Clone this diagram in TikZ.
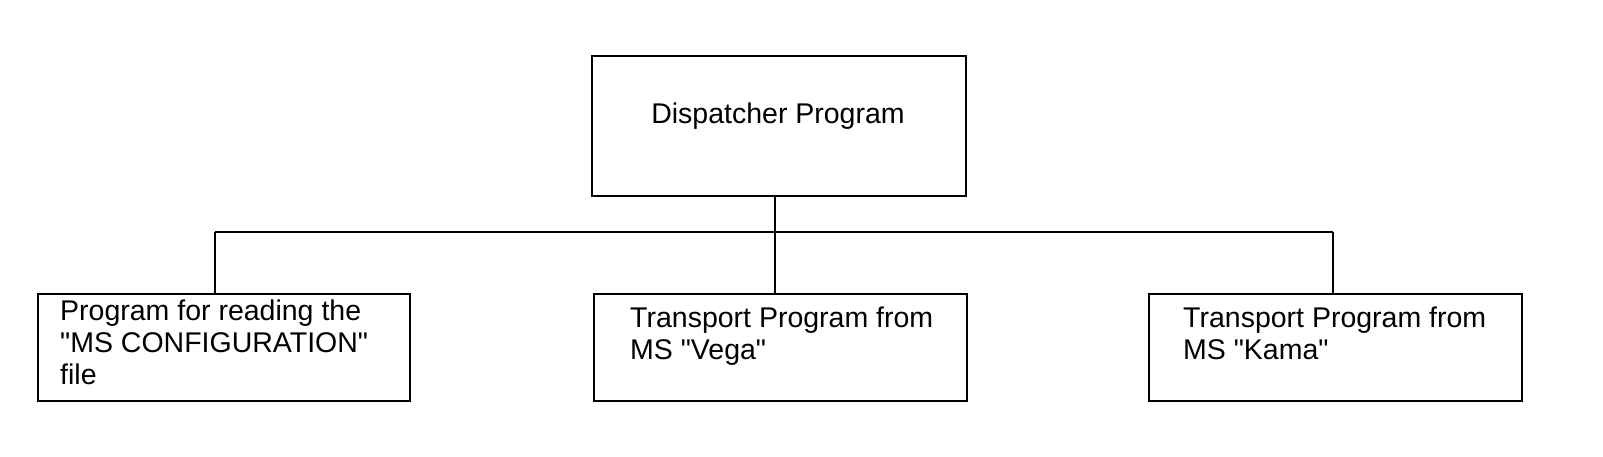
\documentclass[tikz,border=0pt]{standalone}
\usepackage{fontspec}
\setmainfont{Liberation Sans}[Ligatures=TeXOff]
\begin{document}
\begin{tikzpicture}[x=1pt,y=-1pt,
  box/.style={draw,line width=2pt,minimum width=#1,inner sep=0pt,anchor=north west},
  lbl/.style={anchor=north west,align=left,font=\fontsize{28.5}{32}\selectfont,inner sep=0pt},
  ln/.style={line width=2pt}]
\useasboundingbox[fill=white] (0,0) rectangle (1603,456);
\node[box=374pt,minimum height=140pt] (top) at (591,55) {};
\node[font=\fontsize{28.5}{32}\selectfont] (toptext) at (778,116) {Dispatcher Program};
\node[box=372pt,minimum height=107pt] (b1) at (37,293) {};
\node[box=373pt,minimum height=107pt] (b2) at (593,293) {};
\node[box=373pt,minimum height=107pt] (b3) at (1148,293) {};
\node[lbl] (t1) at (60,300) {Program for reading the\\"MS CONFIGURATION"\\file};
\node[lbl] (t2) at (630,307) {Transport Program from\\MS "Vega"};
\node[lbl] (t3) at (1183,307) {Transport Program from\\MS "Kama"};
\coordinate (j) at (775,232);
\draw[ln] (top.south -| j) -- (b2.north -| j);
\draw[ln] (215,232) coordinate (jl) -- (1333,232) coordinate (jr);
\draw[ln] (jl) -- (b1.north -| jl);
\draw[ln] (jr) -- (b3.north -| jr);
\end{tikzpicture}
\end{document}
